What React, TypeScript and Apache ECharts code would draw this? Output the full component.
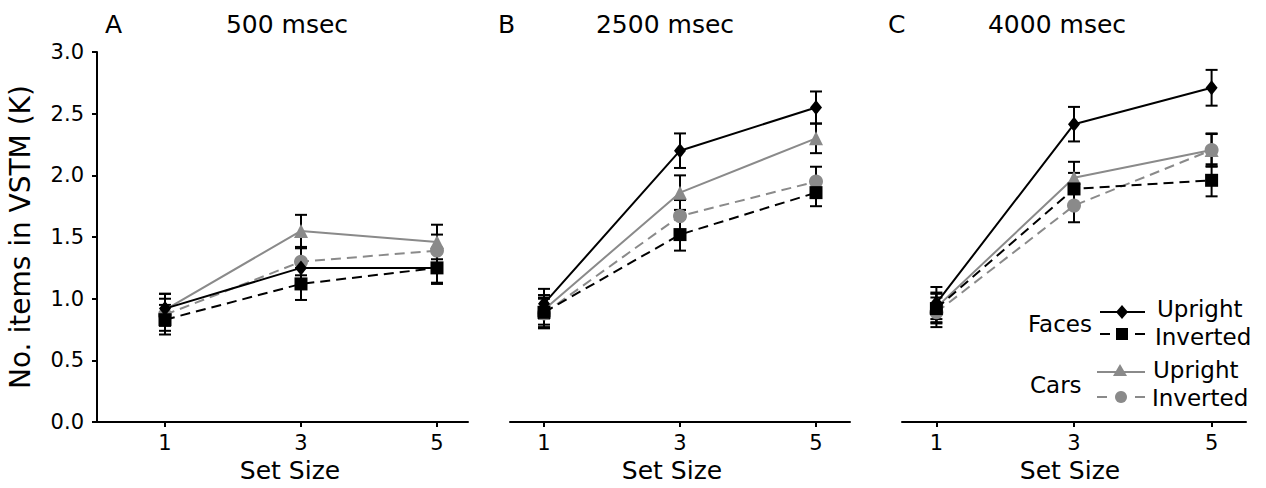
import React, { useEffect, useRef } from "react";
import * as echarts from "echarts";

// ---- data ----
const setSizes = [1, 3, 5];
const panelLetters = ["A", "B", "C"];
const panelTitles = ["500 msec", "2500 msec", "4000 msec"];
const yTickValues = [0, 0.5, 1, 1.5, 2, 2.5, 3];
const xTickValues = [1, 3, 5];

const facesUpright500 = [0.92, 1.25, 1.25];
const facesUprightErr500 = [0.12, 0.16, 0.12];
const facesInverted500 = [0.83, 1.12, 1.25];
const facesInvertedErr500 = [0.12, 0.13, 0.13];
const carsUpright500 = [0.91, 1.55, 1.46];
const carsUprightErr500 = [0.13, 0.13, 0.14];
const carsInverted500 = [0.87, 1.3, 1.39];
const carsInvertedErr500 = [0.13, 0.11, 0.13];

const facesUpright2500 = [0.96, 2.2, 2.55];
const facesUprightErr2500 = [0.12, 0.14, 0.13];
const facesInverted2500 = [0.89, 1.52, 1.86];
const facesInvertedErr2500 = [0.12, 0.13, 0.11];
const carsUpright2500 = [0.91, 1.86, 2.3];
const carsUprightErr2500 = [0.12, 0.14, 0.12];
const carsInverted2500 = [0.88, 1.67, 1.95];
const carsInvertedErr2500 = [0.12, 0.13, 0.12];

const facesUpright4000 = [0.965, 2.415, 2.71];
const facesUprightErr4000 = [0.13, 0.14, 0.145];
const facesInverted4000 = [0.92, 1.89, 1.96];
const facesInvertedErr4000 = [0.12, 0.13, 0.13];
const carsUpright4000 = [0.93, 1.98, 2.205];
const carsUprightErr4000 = [0.12, 0.13, 0.135];
const carsInverted4000 = [0.89, 1.755, 2.205];
const carsInvertedErr4000 = [0.12, 0.135, 0.13];

const legendGroups = ["Faces", "Cars"];
const legendItems = ["Upright", "Inverted"];

// ---- styles ----
const FONT = "DejaVu Sans";
const BLACK = "#000000";
const GRAY = "#8a8a8a";

type Cond = {
  name: string;
  values: number[][];
  errs: number[][];
  color: string;
  dashed: boolean;
  symbol: string;
  symbolSize: number | number[];
};

const conditions: Cond[] = [
  {
    name: "Cars Upright",
    values: [carsUpright500, carsUpright2500, carsUpright4000],
    errs: [carsUprightErr500, carsUprightErr2500, carsUprightErr4000],
    color: GRAY,
    dashed: false,
    symbol: "triangle",
    symbolSize: 14,
  },
  {
    name: "Cars Inverted",
    values: [carsInverted500, carsInverted2500, carsInverted4000],
    errs: [carsInvertedErr500, carsInvertedErr2500, carsInvertedErr4000],
    color: GRAY,
    dashed: true,
    symbol: "circle",
    symbolSize: 14,
  },
  {
    name: "Faces Inverted",
    values: [facesInverted500, facesInverted2500, facesInverted4000],
    errs: [facesInvertedErr500, facesInvertedErr2500, facesInvertedErr4000],
    color: BLACK,
    dashed: true,
    symbol: "rect",
    symbolSize: 13,
  },
  {
    name: "Faces Upright",
    values: [facesUpright500, facesUpright2500, facesUpright4000],
    errs: [facesUprightErr500, facesUprightErr2500, facesUprightErr4000],
    color: BLACK,
    dashed: false,
    symbol: "diamond",
    symbolSize: [12, 15],
  },
];

const grids = [
  { left: 97, width: 371 },
  { left: 510, width: 340 },
  { left: 902, width: 344 },
];
const xRanges = [
  [0, 5.456],
  [0.5, 5.5],
  [0.5, 5.5],
];
const setSizeNameCenters = [290, 672, 1070];

function errorRender(params: any, api: any) {
  const x = api.value(0);
  const lo = api.value(1);
  const hi = api.value(2);
  const pLo = api.coord([x, lo]);
  const pHi = api.coord([x, hi]);
  const hw = 6;
  const st = { stroke: BLACK, lineWidth: 2 };
  return {
    type: "group",
    children: [
      { type: "line", shape: { x1: pLo[0], y1: pLo[1], x2: pHi[0], y2: pHi[1] }, style: st },
      { type: "line", shape: { x1: pLo[0] - hw, y1: pLo[1], x2: pLo[0] + hw, y2: pLo[1] }, style: st },
      { type: "line", shape: { x1: pHi[0] - hw, y1: pHi[1], x2: pHi[0] + hw, y2: pHi[1] }, style: st },
    ],
  };
}

function buildOption() {
  const grid = grids.map((g) => ({ left: g.left, width: g.width, top: 52, height: 371, containLabel: false }));
  const xAxis = grids.map((g, i) => ({
    type: "value",
    gridIndex: i,
    min: xRanges[i][0],
    max: xRanges[i][1],
    name: "Set Size",
    nameLocation: "middle",
    nameGap: 35,
    nameTextStyle: {
      fontFamily: FONT,
      fontSize: 25,
      color: BLACK,
      padding: [0, 0, 0, 2 * (setSizeNameCenters[i] - (g.left + g.width / 2))],
    },
    axisLine: { show: true, onZero: false, lineStyle: { color: BLACK, width: 2 } },
    axisTick: { show: true, length: 5, lineStyle: { color: BLACK, width: 2 }, customValues: xTickValues },
    axisLabel: {
      show: true,
      margin: 10,
      fontFamily: FONT,
      fontSize: 21,
      color: BLACK,
      customValues: xTickValues,
    },
    splitLine: { show: false },
  }));
  const yAxis = grids.map((g, i) => ({
    type: "value",
    gridIndex: i,
    min: 0,
    max: 3,
    interval: 0.5,
    show: i === 0,
    name: i === 0 ? "No. items in VSTM (K)" : "",
    nameLocation: "middle",
    nameRotate: 90,
    nameGap: 63,
    nameTextStyle: { fontFamily: FONT, fontSize: 28, color: BLACK },
    axisLine: { show: true, lineStyle: { color: BLACK, width: 2 } },
    axisTick: { show: true, length: 5, lineStyle: { color: BLACK, width: 2 }, customValues: yTickValues },
    axisLabel: {
      margin: 13,
      fontFamily: FONT,
      fontSize: 21,
      color: BLACK,
      formatter: (v: number) => v.toFixed(1),
    },
    splitLine: { show: false },
  }));

  const series: any[] = [];
  grids.forEach((_, p) => {
    conditions.forEach((c, ci) => {
      series.push({
        type: "custom",
        name: c.name + " error " + p,
        xAxisIndex: p,
        yAxisIndex: p,
        renderItem: errorRender,
        encode: { x: 0, y: [1, 2] },
        data: setSizes.map((s, k) => [s, c.values[p][k] - c.errs[p][k], c.values[p][k] + c.errs[p][k]]),
        z: 1,
        silent: true,
      });
    });
    conditions.forEach((c, ci) => {
      series.push({
        type: "line",
        name: c.name,
        xAxisIndex: p,
        yAxisIndex: p,
        data: setSizes.map((s, k) => [s, c.values[p][k]]),
        symbol: c.symbol,
        symbolSize: c.symbolSize,
        showAllSymbol: true,
        lineStyle: { color: c.color, width: 2, type: c.dashed ? [10, 6] : "solid" },
        itemStyle: { color: c.color, borderWidth: 0 },
        z: 2 + ci,
      });
    });
  });

  const textStyle = (size: number) => ({ fontFamily: FONT, fontSize: size, fill: BLACK });
  const graphic: any[] = [];
  const letterLeft = [105, 498, 888];
  const titleCenter = [287, 665, 1057];
  panelLetters.forEach((l, i) => {
    graphic.push({
      type: "text",
      x: letterLeft[i],
      y: 24,
      style: { text: l, ...textStyle(25), textAlign: "left", textVerticalAlign: "middle" },
    });
    graphic.push({
      type: "text",
      x: titleCenter[i],
      y: 24,
      style: { text: panelTitles[i], ...textStyle(25), textAlign: "center", textVerticalAlign: "middle" },
    });
  });

  // legend
  const lineSt = (color: string) => ({ stroke: color, lineWidth: 2 });
  // Faces
  graphic.push({ type: "text", x: 1028, y: 324, style: { text: legendGroups[0], ...textStyle(23), textVerticalAlign: "middle" } });
  graphic.push({ type: "line", shape: { x1: 1100, y1: 312, x2: 1145, y2: 312 }, style: lineSt(BLACK) });
  graphic.push({ type: "polygon", shape: { points: [[1122, 305], [1128, 312], [1122, 319], [1116, 312]] }, style: { fill: BLACK } });
  graphic.push({ type: "text", x: 1157, y: 309, style: { text: legendItems[0], ...textStyle(23), textVerticalAlign: "middle" } });
  graphic.push({ type: "line", shape: { x1: 1100, y1: 334, x2: 1110, y2: 334 }, style: lineSt(BLACK) });
  graphic.push({ type: "line", shape: { x1: 1135, y1: 334, x2: 1145, y2: 334 }, style: lineSt(BLACK) });
  graphic.push({ type: "rect", shape: { x: 1116, y: 328, width: 12, height: 12 }, style: { fill: BLACK } });
  graphic.push({ type: "text", x: 1155, y: 337, style: { text: legendItems[1], ...textStyle(23), textVerticalAlign: "middle" } });
  // Cars
  graphic.push({ type: "text", x: 1030, y: 385, style: { text: legendGroups[1], ...textStyle(23), textVerticalAlign: "middle" } });
  graphic.push({ type: "line", shape: { x1: 1097, y1: 372, x2: 1145, y2: 372 }, style: lineSt(GRAY) });
  graphic.push({ type: "polygon", shape: { points: [[1120, 364], [1127, 376], [1113, 376]] }, style: { fill: GRAY } });
  graphic.push({ type: "text", x: 1153, y: 370, style: { text: legendItems[0], ...textStyle(23), textVerticalAlign: "middle" } });
  graphic.push({ type: "line", shape: { x1: 1097, y1: 397, x2: 1107, y2: 397 }, style: lineSt(GRAY) });
  graphic.push({ type: "line", shape: { x1: 1135, y1: 397, x2: 1145, y2: 397 }, style: lineSt(GRAY) });
  graphic.push({ type: "circle", shape: { cx: 1121, cy: 397, r: 6 }, style: { fill: GRAY } });
  graphic.push({ type: "text", x: 1152, y: 398, style: { text: legendItems[1], ...textStyle(23), textVerticalAlign: "middle" } });

  return {
    animation: false,
    backgroundColor: "#ffffff",
    textStyle: { fontFamily: FONT },
    grid,
    xAxis,
    yAxis,
    series,
    graphic,
  };
}

export default function App() {
  const ref = useRef<HTMLDivElement>(null);
  useEffect(() => {
    if (!ref.current) return;
    const chart = echarts.init(ref.current, undefined, { renderer: "svg" });
    chart.setOption(buildOption() as any);
    return () => chart.dispose();
  }, []);
  return (
    <div
      ref={ref}
      style={{ position: "fixed", left: 0, top: 0, width: 1266, height: 488, background: "#fff" }}
    />
  );
}
